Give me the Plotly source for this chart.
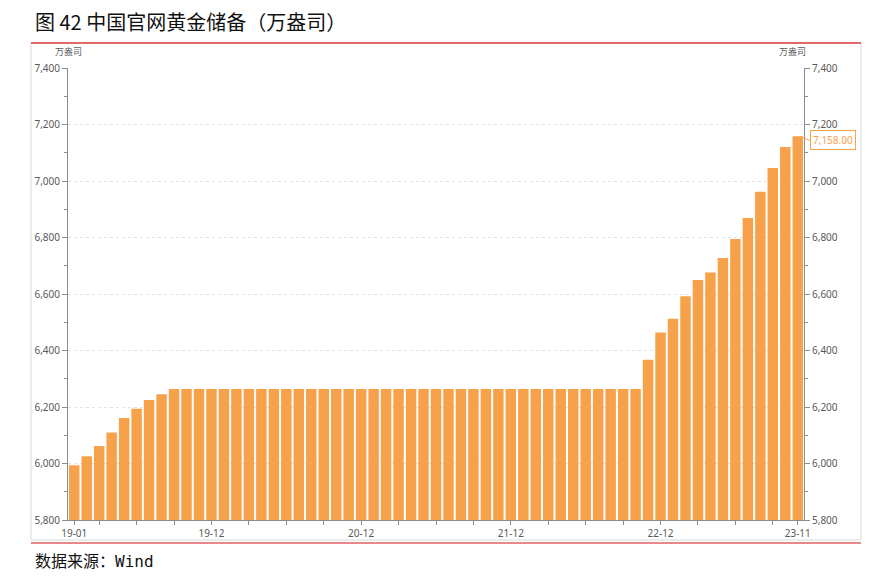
import plotly.graph_objects as go

months = [f"{y:02d}-{m:02d}" for y in range(19, 24) for m in range(1, 13)][:59]
reserves = [5994, 6026, 6062, 6110, 6161, 6194, 6225, 6245, 6264] + [6264] * 37 + \
           [6367, 6464, 6512, 6592, 6650, 6676, 6727, 6795, 6869, 6962, 7046, 7120, 7158]
labeled_ticks = ["19-01", "19-12", "20-12", "21-12", "22-12", "23-11"]
tick_months = ["19-01"] + [m for m in months if int(m[3:]) in (3, 6, 9, 12)] + ["23-11"]
tick_text = [m if m in labeled_ticks else "" for m in tick_months]

title_text = "图 42 中国官网黄金储备（万盎司）"
source_text = "数据来源：<span style=\"font-family:'DejaVu Sans Mono', monospace\">Wind</span>"
unit_text = "万盎司"

bar_color = "#F7A24B"
axis_color = "#8C8C8C"
font_tick = dict(family="Noto Sans, Open Sans, sans-serif", size=10, color="#595959")

fig = go.Figure()
fig.add_trace(go.Bar(x=months, y=reserves, marker=dict(color=bar_color, line=dict(width=0)),
                     yaxis="y", showlegend=False))
fig.add_trace(go.Scatter(x=months, y=reserves, mode="markers", marker=dict(opacity=0),
                         yaxis="y2", showlegend=False, hoverinfo="skip"))

yax = dict(range=[5800, 7400], dtick=200, tick0=5800, tickformat=",", ticks="outside",
           ticklen=5, tickcolor=axis_color, showline=True, linecolor=axis_color, linewidth=1,
           tickfont=font_tick, zeroline=False,
           minor=dict(dtick=100, ticks="outside", ticklen=3, tickcolor=axis_color, showgrid=False))
fig.update_layout(
    width=892, height=585,
    # page body has an 8px margin; compensate so the plot area sits at 68..804 x 68..520
    margin=dict(l=60, r=96, t=60, b=73),
    paper_bgcolor="white", plot_bgcolor="white",
    bargap=0.16,
    xaxis=dict(type="category", tickmode="array", tickvals=tick_months, ticktext=tick_text,
               range=[-0.5, len(months) - 0.5],
               ticks="outside", ticklen=4, tickcolor=axis_color, showline=True,
               linecolor=axis_color, showgrid=False, tickfont=font_tick, tickangle=0),
    yaxis=dict(**yax, side="left", showgrid=True, gridcolor="#E3E3E3", griddash="dot", gridwidth=1),
    yaxis2=dict(**yax, side="right", overlaying="y", showgrid=False),
)

# frame and red rules
fig.add_shape(type="rect", xref="paper", yref="paper", x0=-0.0503, x1=1.0774, y0=-0.0442, y1=1.0553,
              line=dict(color="#D9D9D9", width=1), layer="below")
fig.add_shape(type="line", xref="paper", yref="paper", x0=-0.0503, x1=1.0774, y0=1.0553, y1=1.0553,
              line=dict(color="#E03C3C", width=1.5))
fig.add_shape(type="line", xref="paper", yref="paper", x0=-0.0503, x1=1.0774, y0=-0.0509, y1=-0.0509,
              line=dict(color="#E06060", width=1.5))

fig.add_annotation(text=title_text, xref="paper", yref="paper", x=-0.0475, y=1.103, xanchor="left",
                   yanchor="middle", showarrow=False,
                   font=dict(family="Noto Sans CJK SC", size=20, color="#111111"))
fig.add_annotation(text=source_text, xref="paper", yref="paper", x=-0.0475, y=-0.088, xanchor="left",
                   yanchor="middle", showarrow=False,
                   font=dict(family="Noto Sans CJK SC", size=16, color="#111111"))
fig.add_annotation(text=unit_text, xref="paper", yref="paper", x=0.0, y=1.037, xanchor="center",
                   yanchor="middle", showarrow=False,
                   font=dict(family="Noto Sans CJK SC", size=9, color="#595959"))
fig.add_annotation(text=unit_text, xref="paper", yref="paper", x=0.985, y=1.037, xanchor="center",
                   yanchor="middle", showarrow=False,
                   font=dict(family="Noto Sans CJK SC", size=9, color="#595959"))

fig.add_annotation(x=months[-1], y=reserves[-1], xref="x", yref="y",
                   text=f"{reserves[-1]:,.2f}", showarrow=True, arrowhead=0, arrowcolor=bar_color,
                   arrowwidth=1, ax=10, ay=4, xanchor="left", yanchor="middle", xshift=2,
                   bordercolor=bar_color, borderwidth=1, borderpad=2, bgcolor="white",
                   font=dict(family="Noto Sans, sans-serif", size=10, color=bar_color))

fig.write_html("out.html")
